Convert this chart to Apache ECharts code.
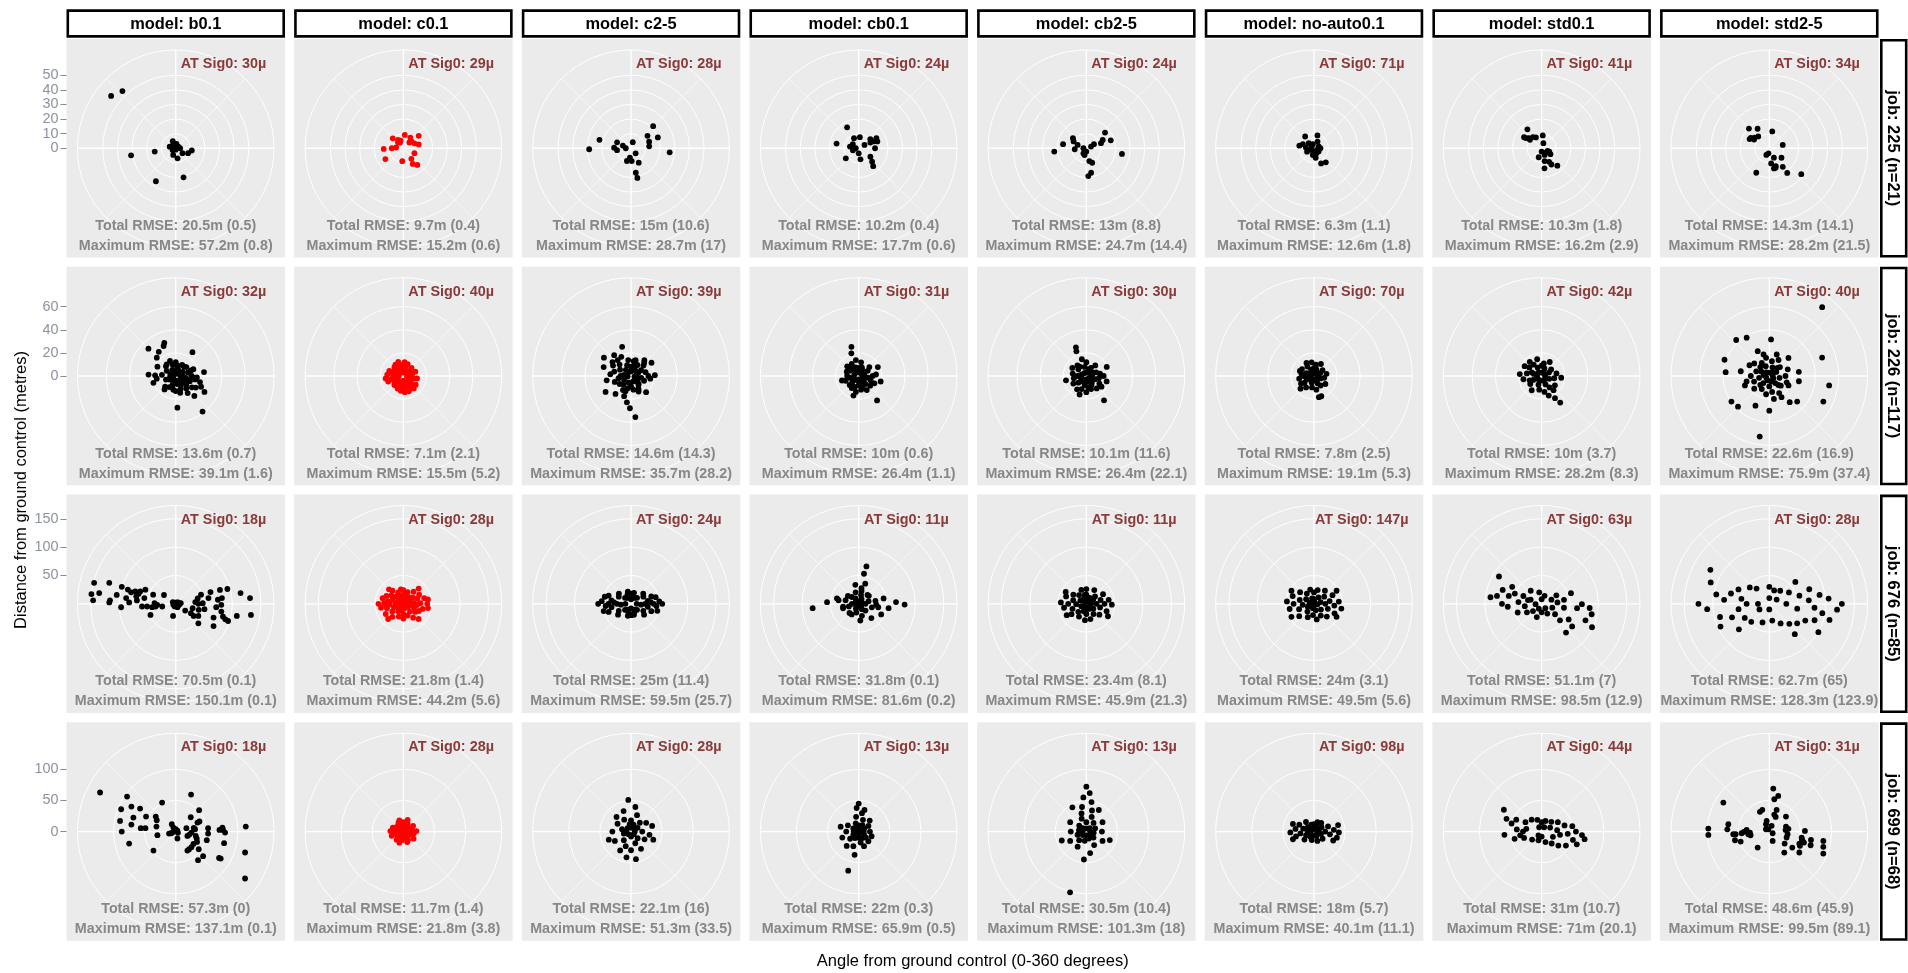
<!DOCTYPE html>
<html>
<head>
<meta charset="utf-8">
<script src="https://cdn.jsdelivr.net/npm/echarts@6/dist/echarts.min.js"></script>
<style>
  html, body { margin: 0; padding: 0; background: #ffffff; }
  #chart { width: 1908px; height: 973px; }
</style>
</head>
<body>
<div id="chart"></div>
<script>
// Facet labels
const models = ['b0.1', 'c0.1', 'c2-5', 'cb0.1', 'cb2-5', 'no-auto0.1', 'std0.1', 'std2-5'];
const jobs = ['225', '226', '676', '699'];
const jobCounts = [21, 117, 85, 68];

// Radial (distance) scale per job row, and its labelled breaks
const radiusMax = [59.9, 75.6, 154.2, 140.3];
const radiusBreaks = [[0, 10, 20, 30, 40, 50], [0, 20, 40, 60], [50, 100, 150], [0, 50, 100]];

// Annotations per job (rows) and model (columns)
const sig0 = [
  [30, 29, 28, 24, 24, 71, 41, 34],
  [32, 40, 39, 31, 30, 70, 42, 40],
  [18, 28, 24, 11, 11, 147, 63, 28],
  [18, 28, 28, 13, 13, 98, 44, 31]
];
const totalRmse = [
  [20.5, 9.7, 15, 10.2, 13, 6.3, 10.3, 14.3],
  [13.6, 7.1, 14.6, 10, 10.1, 7.8, 10, 22.6],
  [70.5, 21.8, 25, 31.8, 23.4, 24, 51.1, 62.7],
  [57.3, 11.7, 22.1, 22, 30.5, 18, 31, 48.6]
];
const totalSpread = [
  [0.5, 0.4, 10.6, 0.4, 8.8, 1.1, 1.8, 14.1],
  [0.7, 2.1, 14.3, 0.6, 11.6, 2.5, 3.7, 16.9],
  [0.1, 1.4, 11.4, 0.1, 8.1, 3.1, 7, 65],
  [0, 1.4, 16, 0.3, 10.4, 5.7, 10.7, 45.9]
];
const maxRmse = [
  [57.2, 15.2, 28.7, 17.7, 24.7, 12.6, 16.2, 28.2],
  [39.1, 15.5, 35.7, 26.4, 26.4, 19.1, 28.2, 75.9],
  [150.1, 44.2, 59.5, 81.6, 45.9, 49.5, 98.5, 128.3],
  [137.1, 21.8, 51.3, 65.9, 101.3, 40.1, 71, 99.5]
];
const maxSpread = [
  [0.8, 0.6, 17, 0.6, 14.4, 1.8, 2.9, 21.5],
  [1.6, 5.2, 28.2, 1.1, 22.1, 5.3, 8.3, 37.4],
  [0.1, 5.6, 25.7, 0.2, 21.3, 5.6, 12.9, 123.9],
  [0.1, 3.8, 33.5, 0.5, 18, 11.1, 20.1, 89.1]
];

// Check-point offsets: [angle from ground control (deg), distance (m)], one list per model
const job225 = [
  [[337,5.2],[285,4.3],[270,1.7],[336,1.7],[58,2.1],[201,4.9],[126,5.7],[112,9.1],[98,11.1],[180,1.0],[300,3.0],[10,3.0],[240,2.5],[90,3.0],[170,7.0],[309,57.0],[317,53.6],[261,31.0],[261,14.6],[211,26.4],[165,20.6]],
  [[313,10.0],[327,6.8],[329,4.5],[318,5.5],[6,9.2],[33,8.7],[51,7.3],[66,8.3],[76,10.8],[51,13.5],[268,13.5],[270,8.0],[276,5.0],[239,14.4],[185,8.9],[114,8.3],[143,9.1],[149,12.5],[140,14.9],[340,5.5],[46,5.7]],
  [[268.6,28.7],[285,22.4],[293,10.4],[272,11.6],[288,5.9],[270,3.6],[262,9.7],[16,4.3],[138,4.7],[187,6.5],[198,9.2],[152,11.2],[169,17.1],[168,20.8],[53,14.1],[45,21.4],[68,19.8],[70,13.2],[84,12.5],[96,26.6],[177,8.8]],
  [[331,16.4],[282,15.5],[335,7.6],[6,7.6],[305,4.9],[270,2.0],[251,4.2],[52,10.1],[65,11.0],[70,13.6],[64,8.9],[90,11.2],[232,11.2],[171,7.7],[126,9.9],[135,13.0],[141,15.8],[180,3.5],[281,6.1],[60,4.6],[60,14.0]],
  [[264,22.1],[280,16.2],[307,11.5],[298,9.9],[265,8.0],[270,2.0],[180,2.3],[195,4.8],[167,9.0],[158,10.7],[169,17.1],[176,19.1],[70,3.4],[62,5.9],[71,10.6],[63,12.6],[50,16.7],[72,17.6],[99,24.7],[210,4.0],[291,6.4]],
  [[323,10.1],[15,9.1],[280,10.2],[314,5.0],[344,2.9],[28,5.2],[69,3.4],[275,5.6],[247,3.0],[180,2.3],[155,3.8],[190,4.7],[170,6.6],[155,11.5],[140,12.6],[90,4.4],[244,5.3],[307,2.0],[126,3.9],[290,8.1],[121,2.3]],
  [[323,16.2],[302,14.2],[308,11.2],[322,9.7],[332,8.4],[5,8.8],[19,3.7],[180,2.3],[131,4.3],[114,5.7],[124,7.3],[156,5.0],[198,6.5],[167,9.0],[151,10.6],[138,16.1],[172,13.9],[149,13.0],[303,12.8],[114,4.4],[306,9.9]],
  [[314,19.4],[329,15.6],[10,11.7],[299,14.5],[306,12.4],[317,11.1],[295,14.9],[76,9.5],[204,5.0],[154,7.2],[128,10.6],[173,10.5],[162,14.1],[167,14.2],[144,15.7],[208,19.0],[144,20.9],[129,28.2],[160,13.0],[190,3.5],[300,12.0]]
];

const job226 = [
  [[315,33.4],[341,30.4],[338,28.0],[325,25.6],[314,22.8],[35,25.2],[273,23.6],[297,17.8],[272,17.9],[262,16.6],[253,20.2],[82,24.7],[104,21.6],[113,23.8],[119,28.4],[137,23.6],[143,38.5],[177,27.4],[220,15.1],[42,10.8],[69,16.3],[94,18.3],[90,13.8],[322,12.7],[339,13.9],
   [0,2],[45,3],[90,4],[135,5],[180,4],[225,3],[270,2],[315,3],[20,6],[60,7],[100,8],[120,10],[150,9],[170,7],[200,8],[240,6],[290,5],[330,6],[10,9],[75,11],[110,13],[140,14],[160,12],[190,12],[210,11],[250,9],[300,9],[345,10],[30,11],[50,12],[95,15],[125,17],[130,12],[145,18],[115,6],[85,6],[155,5],[195,5],[260,5],[355,5],[105,10],[135,8],[165,15],[180,13],[70,14],[100,17],[120,20],[225,13],[275,12],[315,12],[0,12]],
  [[0,3],[30,5],[60,4],[90,3],[120,5],[150,6],[180,4],[210,5],[240,6],[270,4],[300,5],[330,6],[15,9],[45,10],[75,8],[105,9],[135,11],[165,12],[195,10],[225,11],[255,12],[285,10],[315,11],[345,10],[5,12],[20,11],[70,11],[100,12],[140,14],[160,14],[175,14],[190,13],[200,8],[230,9],[250,14],[262,15.5],[275,14],[290,13],[300,9],[320,8],[340,13],[350,7],[10,6],[50,7],[80,6],[110,7],[130,8],[155,9],[185,8],[215,7],[245,9],[280,8],[310,4],[0,8],[125,13],[145,12],[170,10],[205,12],[265,9],[325,12]],
  [[343,26.4],[321,23.2],[304,28.3],[288,24.9],[260,21.4],[238,26],[221,20.5],[199,18.4],[189,23],[182,27.9],[174,35.7],[154,14.9],[137,19.1],[98,16.8],[88,20.6],[57,21.1],[40,17.9],[16,14.3],[333,18.6],[307,20.1],[136,9.3],
   [0,4],[40,6],[80,5],[120,6],[160,5],[200,6],[240,7],[280,6],[320,7],[20,9],[60,10],[100,9],[140,10],[180,9],[220,10],[260,11],[300,11],[340,10],[10,13],[50,14],[75,13],[110,12],[150,13],[210,14],[250,15],[285,15],[315,14],[350,14],[30,11],[90,15],[130,7],[195,11],[270,9],[330,4],[0,8],[65,7],[235,12],[300,18],[275,18],[320,18],[200,14],[170,12],[100,3],[260,3],[45,16]],
  [[346,26],[342,20.6],[65,18.3],[104,19.6],[143,26.4],[195,17.5],[255,15],
   [0,3],[40,4],[80,5],[120,4],[160,5],[200,4],[240,5],[280,4],[320,5],[20,8],[60,9],[100,8],[140,9],[180,8],[220,9],[260,8],[300,9],[340,8],[10,12],[50,12],[90,12],[130,13],[170,12],[210,12],[250,12],[290,11],[330,12],[30,6],[70,3],[110,11],[150,14],[190,14],[230,7],[270,10],[310,13],[350,14],[85,15],[115,15],[160,10],[200,10],[0,7],[135,6],[180,3],[225,11],[315,9]],
  [[340,26.4],[338,23],[144,26],[200,17],[66,19.3],[105,18.2],[258,18],
   [10,3],[50,4],[90,5],[130,3],[170,5],[210,4],[250,5],[290,4],[330,3],[30,8],[70,9],[110,8],[150,9],[190,8],[230,9],[270,8],[310,9],[350,8],[0,12],[40,12],[80,12],[120,13],[160,12],[200,12],[240,13],[280,12],[320,12],[60,6],[100,11],[140,14],[180,14],[220,6],[260,11],[300,14],[345,15],[90,15],[125,16],[170,10],[215,14],[20,6],[135,7],[185,3],[275,6],[325,10]],
  [[167,18.8],[227,16],[160,18.6],
   [0,2],[45,3],[90,3],[135,4],[180,3],[225,4],[270,3],[315,3],[20,6],[65,6],[110,6],[155,7],[200,6],[245,7],[290,7],[335,6],[10,10],[55,9],[100,9],[145,10],[190,10],[235,10],[280,11],[325,10],[30,12],[80,11],[125,12],[170,12],[215,12],[260,13],[300,12],[350,12],[0,7],[70,4],[160,4],[250,5],[270,9],[290,13],[240,13],[330,13]],
  [[149,22.4],[145,28],[160,18],
   [0,3],[45,3],[90,3],[135,4],[180,4],[225,4],[270,4],[315,4],[20,7],[65,7],[110,7],[155,8],[200,8],[245,8],[290,9],[335,8],[10,11],[55,10],[100,11],[145,12],[190,12],[235,12],[280,13],[325,12],[30,14],[80,13],[125,14],[170,14],[215,15],[260,16],[300,17],[345,15],[275,19],[305,13],[320,16],[250,11],[285,7],[0,9],[140,16],[95,17]],
  [[37.5,75.1],[70.7,48.4],[98.9,52.4],[115.3,51.7],[189,53],[317.4,42.3],[329.4,38.5],[2.7,31.7],[290,41.2],[275,37.9],[236,39.5],[225.6,37.9],[205,28.3],[180,30],[142,28.7],[132.5,32.7],[168.6,20.2],[335,23.7],[345,19.3],[19,19.7],[46.6,22.8],[82,25.8],[100,26],[116,18.5],[256.5,20.2],[249,22.6],[298.5,19.5],[279.5,25],[150,21.1],
   [0,3],[40,4],[80,3],[120,4],[160,5],[200,4],[240,3],[280,5],[320,4],[20,8],[60,7],[100,9],[140,8],[180,9],[220,8],[260,9],[300,8],[340,9],[10,13],[50,12],[90,14],[130,13],[170,14],[210,13],[250,14],[290,12],[330,13],[30,16],[70,17],[110,16],[150,17],[190,16],[230,17],[270,16],[310,17],[350,16],[45,10],[135,11],[225,11],[315,11]]
];

const job676 = [
  [[284.4,148.7],[272.4,145.9],[276.6,149.8],[278,136.4],[287.5,123],[273,116.2],[271.2,117.3],[278.5,105.3],[287.4,99.8],[266.4,96.6],[276.6,88.1],[286.5,88.1],[271.7,82.2],[284.4,81.2],[287.1,74.7],[280.7,70.8],[275,68.8],[285.3,67.9],[289.4,66.3],[265.4,59.7],[295,59.1],[280.3,56.3],[264.6,50.8],[246.3,48.7],[261.8,42.1],[292,43],[271.8,37.5],[262.3,36],[266.9,32.8],[258.6,24.3],[306.7,25.9],[192.6,21.9],[246.8,4.6],[303.7,2.2],[26.6,2.7],[153.4,6.7],[106.7,6.2],[82.3,9],[125.5,20.5],[121.9,31.5],[104.5,30.8],[124.2,38.1],[85,34.6],[76.2,39.8],[90,39.9],[104.8,41.9],[118.2,45.3],[130.8,52.7],[70.1,47.4],[88.6,47.6],[100.6,51.5],[80.1,58.6],[71.3,64.7],[110.1,71],[120.5,77.4],[94.8,71.7],[84.5,74.7],[72.6,81.7],[91.3,80.4],[99.7,81.6],[82.9,82.1],[105.2,86.3],[107.4,91.7],[74,94.8],[108.2,97.2],[101.2,109.8],[80.6,115.9],[85.6,131.4],[98.4,134.1],[200,5],[60,5],[300,6]],
  [[0,5],[0,15],[0,24],[20,10],[20,22],[35,15],[40,28],[50,8],[55,20],[60,32],[70,12],[70,26],[75,38],[85,6],[85,18],[88,30],[90,42],[95,24],[100,12],[105,35],[110,20],[115,30],[125,10],[125,25],[140,18],[145,30],[160,8],[160,22],[180,6],[180,18],[180,26],[195,12],[200,24],[215,16],[220,30],[235,10],[235,24],[240,36],[250,18],[255,30],[260,40],[265,8],[268,24],[270,44],[272,34],[275,14],[280,28],[285,38],[290,20],[295,33],[300,10],[305,26],[315,18],[320,30],[330,8],[335,22],[345,14],[350,26],[10,18],[30,5],[140,5],[220,5],[310,5],[45,38],[135,38],[225,38],[315,36],[80,44],[100,44],[260,30]],
  [[90,10],[90,25],[90,40],[90,55],[270,10],[270,25],[270,40],[270,58],[80,30],[100,30],[75,45],[105,48],[260,35],[280,35],[255,50],[285,48],[0,8],[0,18],[180,8],[180,20],[45,15],[135,15],[225,15],[315,15],[60,25],[120,25],[240,25],[300,25],[30,12],[150,12],[210,12],[330,12],[70,38],[110,38],[250,42],[290,42],[95,18],[265,18],[15,20],[165,20],[195,22],[345,22],[85,50],[275,52],[85,35],[95,45],[275,30],[265,45],[20,12],[200,15],[340,18],[160,16],[50,28],[130,30],[230,30],[310,28]],
  [[264.6,81.6],[273,55.9],[284,39.6],[254,28.7],[306,23.5],[213.5,22.4],[11.7,67.4],[10,53.8],[18,37.4],[12.5,23.1],[52,22.7],[92.4,31],[77.8,45],[98.4,53.3],[87.4,65.9],[91,81],[138.4,33.7],[174.6,29.6],[115.2,43.9],
   [0,4],[60,6],[120,5],[180,6],[240,5],[300,6],[30,10],[90,12],[150,11],[210,10],[270,12],[330,11],[15,16],[75,18],[135,17],[195,16],[255,18],[315,17],[45,22],[105,24],[165,22],[225,23],[285,24],[345,21],[80,30],[100,35],[260,28],[280,36],[10,28],[350,34]],
  [[0,6],[0,16],[0,26],[30,12],[30,28],[50,20],[60,34],[75,10],[75,26],[80,40],[90,18],[90,32],[92,45],[100,8],[105,25],[110,38],[125,15],[130,30],[145,22],[155,10],[165,28],[180,8],[180,18],[185,29],[200,14],[210,26],[225,20],[235,32],[245,10],[250,26],[260,40],[268,18],[270,32],[273,45],[285,24],[290,38],[300,12],[305,28],[320,20],[335,10],[340,26],[350,16],[20,5],[140,6],[220,6],[320,6],[60,14],[120,44],[240,40],[300,42]],
  [[0,8],[0,20],[15,25],[35,14],[40,30],[55,22],[65,36],[75,12],[80,28],[85,44],[90,20],[95,36],[100,49],[110,26],[115,40],[130,16],[135,32],[150,24],[165,12],[170,28],[185,20],[195,8],[205,26],[220,18],[230,34],[245,12],[250,28],[258,44],[265,20],[270,36],[275,48],[285,26],[290,40],[300,16],[310,32],[325,22],[340,10],[345,26],[10,4],[100,6],[190,4],[280,8],[60,46],[120,46],[240,46],[300,46]],
  [[302.6,89.4],[277.3,91],[289.6,73],[283.4,59.6],[290.8,50.6],[274.2,41],[293.1,35.1],[290.6,20.7],[266.8,10.8],[348,20.7],[139.8,10.1],[67,18.7],[128,30],[132,43.5],[139.7,66.5],[126.6,67],[97,62.9],[90.5,71],[110.7,82.7],[101.8,90.1],[115,98],[262,30],[250,45],[270,70],[300,60],[240,30],[80,40],[100,40],[120,55],[70,55],[20,15],[180,15],[200,25],[230,20],[320,30],[60,30],[150,20],[280,80],[95,85],[265,60],[285,25],[110,20],[85,28],[210,10],[0,8]],
  [[300,120],[290,110],[280,95],[275,80],[285,70],[265,110],[255,90],[250,70],[295,60],[280,50],[270,40],[260,55],[240,50],[310,45],[320,35],[0,30],[20,25],[40,30],[60,40],[75,55],[85,70],[95,80],[80,90],[100,95],[110,85],[105,110],[95,120],[85,105],[115,70],[125,60],[135,50],[150,40],[170,30],[200,35],[225,45],[230,70],[245,95],[270,125],[90,128],[70,75],[50,60],[120,100],[140,70],[100,50],[90,30],[270,20],[180,10],[0,10],[60,15],[240,20]]
];

const job699 = [
  [[297.3,136.7],[305.7,96.2],[292.2,94.7],[299.4,81.7],[302.8,68.1],[280.8,91],[288.3,71.6],[270,86.7],[278.9,72.1],[296.8,53.4],[275.5,56.5],[276.3,49],[255.5,77.3],[306.9,40.1],[300.8,35.5],[284.5,32],[258.7,30],[229.6,47],[334.8,51.4],[253.3,11.2],[331.5,13.4],[330,7.4],[0,3.7],[253.5,5.6],[166.4,11.5],[72.5,17.9],[110.5,20],[22.5,64.3],[46.3,33.3],[102.4,22.4],[93.6,25.2],[78.5,29.5],[83.2,31.2],[102.3,32.9],[67.5,37.7],[47.6,50.8],[67,41.3],[108.4,35.5],[115.9,38],[127.6,46.6],[142.1,58.3],[124.9,34.6],[135,35.5],[143,35.6],[148.5,35.8],[132,59.1],[105.6,51.7],[84.1,52.2],[93.5,52],[87.8,70.2],[121,84.2],[121.3,81.4],[85.1,75.2],[88,76],[91.2,79.2],[103.5,79.8],[85.9,112.7],[106.8,116.3],[124.1,134.4],[250,8],[60,3],[120,4]],
  [[0,3],[0,9],[0,15],[30,6],[30,14],[50,10],[60,18],[75,5],[80,14],[88,21],[95,9],[100,17],[115,12],[125,20],[140,7],[150,15],[170,10],[180,4],[190,14],[210,8],[220,17],[240,12],[250,20],[262,6],[268,15],[272,21],[285,10],[290,18],[305,13],[320,7],[330,16],[350,11],[20,20],[160,18],[200,19],[340,19],[45,3],[135,3],[225,3],[315,3]],
  [[355,51],[10,40],[340,35],[20,28],[330,22],[0,18],[45,20],[300,25],[270,30],[285,15],[60,12],[90,18],[100,30],[75,35],[120,25],[135,15],[160,20],[180,30],[190,42],[170,45],[200,25],[220,18],[240,30],[255,12],[0,6],[90,6],[180,8],[270,8],[45,8],[135,6],[225,6],[315,8],[110,38],[250,38],[315,33],[60,28],[150,32],[210,35],[20,12],[350,12]],
  [[0,45],[355,38],[10,30],[350,24],[20,20],[340,14],[0,10],[30,12],[60,10],[90,8],[120,10],[150,12],[180,10],[210,12],[240,10],[270,8],[300,10],[330,8],[90,18],[270,20],[250,28],[110,22],[200,25],[160,25],[190,38],[195,65],[230,18],[300,20],[45,25],[135,22],[0,4],[180,4],[90,3],[270,3],[15,36],[170,18],[220,30],[130,15],[60,18],[285,30]],
  [[0,72],[5,62],[355,55],[10,48],[350,40],[15,35],[345,30],[20,25],[340,22],[0,15],[40,18],[70,15],[100,12],[130,15],[160,12],[190,15],[220,18],[250,15],[280,12],[310,15],[90,25],[270,25],[60,30],[120,30],[240,30],[300,30],[150,25],[210,28],[195,101],[185,45],[170,35],[0,5],[90,6],[180,6],[270,6],[45,8],[135,8],[225,8],[315,8],[30,40],[330,45],[110,40],[250,42]],
  [[0,4],[0,12],[30,8],[40,18],[60,14],[70,24],[80,8],[85,32],[90,18],[92,40],[100,26],[110,12],[115,34],[130,18],[150,8],[160,16],[180,6],[195,14],[215,10],[230,20],[245,14],[255,30],[262,22],[268,38],[272,10],[278,30],[285,18],[295,26],[305,12],[320,20],[340,12],[350,6],[20,16],[120,6],[240,6],[300,6],[75,40],[105,38],[250,36],[290,36]],
  [[300,70],[290,60],[285,50],[275,40],[295,45],[270,30],[280,25],[260,35],[250,30],[300,30],[320,25],[340,20],[0,15],[20,18],[45,22],[60,30],[75,38],[80,50],[90,55],[95,65],[100,70],[110,60],[120,45],[130,35],[140,25],[160,18],[200,15],[230,20],[265,60],[255,45],[85,25],[100,30],[115,20],[65,15],[30,8],[180,8],[220,8],[330,8],[95,42],[105,52]],
  [[302.2,87.2],[5.3,69.3],[14.1,59],[8.8,52.5],[334.6,35],[342.2,36.6],[18.7,36.7],[16.3,28.4],[23.5,25.6],[48,36],[346,17.6],[335.8,12.9],[336.6,4],[116.6,6],[160.2,15.9],[216,31.8],[272.8,98],[266.8,98],[280.2,66.8],[273.1,67.5],[265.7,58],[265.4,54.2],[255.8,56.8],[250.8,48.7],[266.5,44.5],[269.3,40.7],[274.2,36.5],[262.7,34],[258.9,30.6],[267,31.1],[73.4,28],[84.1,26.3],[98.3,29.7],[109,29.4],[128.1,31.3],[144.4,41.4],[124.9,45],[124.9,58.8],[115,54.3],[100.5,52.8],[105.7,55.6],[88.9,57.2],[107.6,58.4],[101.3,68.2],[108.3,69.9],[99.8,88],[105.8,90.1],[112.2,93.6],[305,6.5],[22,10],[82,31],[104,54],[112,52]]
];

const pointsByJob = [job225, job226, job676, job699];

// Panel geometry (pixels)
const PANEL = 218.5;
const COL0 = 66.5, COL_STEP = 227.65;
const ROW0 = 39, ROW_STEP = 227.77;
const R_DATA = 0.4 * PANEL;
const R_OUTER = 0.45 * PANEL;
const FONT = '"Liberation Sans", Arial, sans-serif';

const option = {
  animation: false,
  backgroundColor: '#ffffff',
  polar: [], angleAxis: [], radiusAxis: [],
  grid: [], xAxis: [], yAxis: [],
  series: [], graphic: []
};

function txt(x, y, text, opts) {
  return Object.assign({
    type: 'text', x: x, y: y, z: 50, silent: true,
    style: Object.assign({
      text: text, fontFamily: FONT, fontSize: 14.3, fontWeight: 'bold', fill: '#000',
      align: 'center', verticalAlign: 'middle', textAlign: 'center', textVerticalAlign: 'middle'
    }, opts.style || {})
  }, opts.el || {});
}

for (let r = 0; r < jobs.length; r++) {
  const top = ROW0 + r * ROW_STEP;
  const cy = top + PANEL / 2;

  // distance tick labels on the left of each row
  const g = option.grid.length;
  option.grid.push({ left: COL0, top: cy - R_DATA, width: 1, height: R_DATA, show: false, containLabel: false });
  option.xAxis.push({ gridIndex: g, type: 'value', show: false });
  option.yAxis.push({
    gridIndex: g, type: 'value', min: 0, max: radiusMax[r], position: 'left',
    axisLine: { show: false }, splitLine: { show: false },
    axisTick: { show: true, length: 6, lineStyle: { color: '#8a8a8a', width: 1 }, customValues: radiusBreaks[r] },
    axisLabel: { show: true, color: '#8b929f', fontSize: 14.4, fontFamily: FONT, margin: 8, customValues: radiusBreaks[r] }
  });

  for (let c = 0; c < models.length; c++) {
    const left = COL0 + c * COL_STEP;
    const cx = left + PANEL / 2;

    // panel background
    option.graphic.push({ type: 'rect', z: -10, silent: true,
      shape: { x: left, y: top, width: PANEL, height: PANEL }, style: { fill: '#ebebeb' } });

    // angular grid: spokes every 90 (major) and 45 (minor), outer ring
    const pOuter = option.polar.length;
    option.polar.push({ center: [cx, cy], radius: R_OUTER });
    option.angleAxis.push({
      polarIndex: pOuter, type: 'value', min: 0, max: 360, interval: 90, startAngle: 90, clockwise: true,
      axisLine: { show: true, lineStyle: { color: '#ffffff', width: 1 } },
      axisTick: { show: false }, axisLabel: { show: false },
      splitLine: { show: true, lineStyle: { color: '#ffffff', width: 1.3 } },
      minorTick: { show: false, splitNumber: 2 },
      minorSplitLine: { show: true, lineStyle: { color: '#ffffff', width: 0.6 } },
      silent: true
    });
    option.radiusAxis.push({ polarIndex: pOuter, type: 'value', min: 0, max: 1, show: false });

    // data polar: radial rings at the distance breaks
    const pData = option.polar.length;
    option.polar.push({ center: [cx, cy], radius: R_DATA });
    option.angleAxis.push({
      polarIndex: pData, type: 'value', min: 0, max: 360, startAngle: 90, clockwise: true,
      axisLine: { show: false }, axisTick: { show: false }, axisLabel: { show: false },
      splitLine: { show: false }, silent: true
    });
    option.radiusAxis.push({
      polarIndex: pData, type: 'value', min: 0, max: radiusMax[r],
      axisLine: { show: false }, axisLabel: { show: false },
      axisTick: { show: false, customValues: radiusBreaks[r] },
      splitLine: { show: true, lineStyle: { color: '#ffffff', width: 1 } },
      silent: true
    });

    option.series.push({
      type: 'scatter', coordinateSystem: 'polar', polarIndex: pData,
      data: pointsByJob[r][c], encode: { angle: 0, radius: 1 },
      symbol: 'circle', symbolSize: 5.8, silent: true, z: 3,
      itemStyle: { color: c === 1 ? '#ff0000' : '#000000', opacity: 1 }
    });

    // annotations
    option.graphic.push(txt(left + 157, top + 25, 'AT Sig0: ' + sig0[r][c] + 'µ', { style: { fill: '#8b3a3a', fontSize: 14.4 } }));
    option.graphic.push(txt(cx, top + 187, 'Total RMSE: ' + totalRmse[r][c] + 'm (' + totalSpread[r][c] + ')', { style: { fill: '#878787' } }));
    option.graphic.push(txt(cx, top + 207, 'Maximum RMSE: ' + maxRmse[r][c] + 'm (' + maxSpread[r][c] + ')', { style: { fill: '#878787' } }));
  }

  // job strip on the right
  option.graphic.push({ type: 'rect', z: 20, silent: true,
    shape: { x: 1880 + 1.3, y: top + 1.3, width: 27.5 - 2.6, height: PANEL - 2.6 },
    style: { fill: '#ffffff', stroke: '#000000', lineWidth: 2.6 } });
  option.graphic.push(txt(1893, cy, 'job: ' + jobs[r] + ' (n=' + jobCounts[r] + ')', { style: { fontSize: 16.5 }, el: { rotation: -Math.PI / 2 } }));
}

// model strips on top
for (let c = 0; c < models.length; c++) {
  const left = COL0 + c * COL_STEP;
  option.graphic.push({ type: 'rect', z: 20, silent: true,
    shape: { x: left + 1.3, y: 9.3 + 1.3, width: PANEL - 2.6, height: 28.4 - 2.6 },
    style: { fill: '#ffffff', stroke: '#000000', lineWidth: 2.6 } });
  option.graphic.push(txt(left + PANEL / 2, 24, 'model: ' + models[c], { style: { fontSize: 16.4 } }));
}

// axis titles
option.graphic.push(txt(972.7, 961, 'Angle from ground control (0-360 degrees)', { style: { fontWeight: 'normal', fontSize: 16.5 } }));
option.graphic.push(txt(21, 490, 'Distance from ground control (metres)', { style: { fontWeight: 'normal', fontSize: 16.5 }, el: { rotation: Math.PI / 2 } }));

const chart = echarts.init(document.getElementById('chart'), null, { renderer: 'canvas', width: 1908, height: 973 });
chart.setOption(option);
</script>
</body>
</html>
